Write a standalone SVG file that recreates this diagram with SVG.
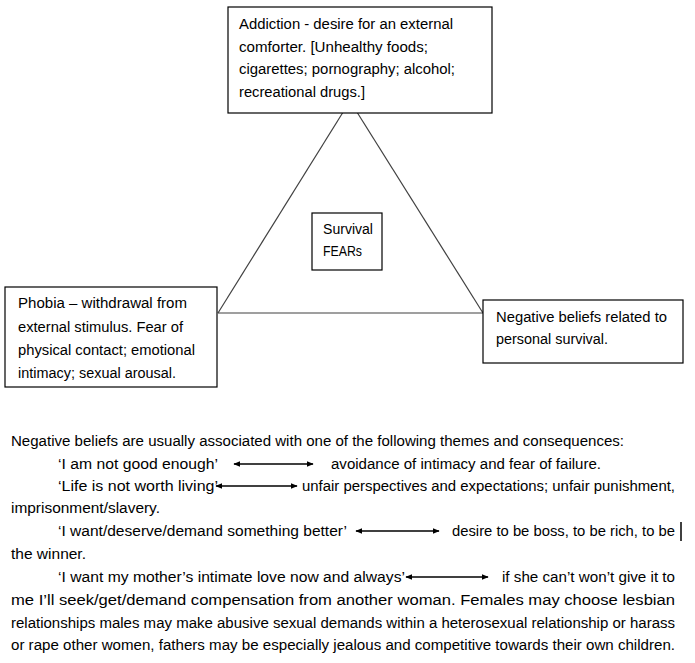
<svg xmlns="http://www.w3.org/2000/svg" width="695" height="663" viewBox="0 0 695 663">
<style>
text{font-family:"Liberation Sans",Arial,sans-serif;font-size:14px;fill:#000}
.box{fill:#fff;stroke:#000;stroke-width:1.2}
.tri{stroke:#404040;stroke-width:1.2;fill:none}
.arr{stroke:#000;stroke-width:1.3;marker-start:url(#ah);marker-end:url(#ah)}
</style>
<defs>
<marker id="ah" viewBox="0 0 10 10" refX="9" refY="5" markerWidth="7" markerHeight="7" markerUnits="userSpaceOnUse" orient="auto-start-reverse">
<path d="M0,1 L10,5 L0,9 z" fill="#000"/>
</marker>
</defs>
<rect width="695" height="663" fill="#fff"/>
<g id="connectors">
<line class="tri" x1="218" y1="313" x2="350" y2="101"/>
<line class="tri" x1="483" y1="313" x2="350" y2="101"/>
<line class="tri" x1="218" y1="313" x2="483" y2="313"/>
</g>
<g id="addiction">
<rect class="box" x="228" y="7" width="264" height="106"/>
<text x="239" y="29" textLength="214" lengthAdjust="spacingAndGlyphs">Addiction - desire for an external</text>
<text x="239" y="52" textLength="189" lengthAdjust="spacingAndGlyphs">comforter. [Unhealthy foods;</text>
<text x="239" y="74" textLength="216" lengthAdjust="spacingAndGlyphs">cigarettes; pornography; alcohol;</text>
<text x="239" y="97" textLength="126" lengthAdjust="spacingAndGlyphs">recreational drugs.]</text>
</g>
<g id="phobia">
<rect class="box" x="5" y="287" width="212" height="100"/>
<text x="18" y="308" textLength="169" lengthAdjust="spacingAndGlyphs">Phobia – withdrawal from</text>
<text x="18" y="332" textLength="165" lengthAdjust="spacingAndGlyphs">external stimulus. Fear of</text>
<text x="18" y="355" textLength="177" lengthAdjust="spacingAndGlyphs">physical contact; emotional</text>
<text x="18" y="378" textLength="158" lengthAdjust="spacingAndGlyphs">intimacy; sexual arousal.</text>
</g>
<g id="negative">
<rect class="box" x="483" y="300" width="200" height="63"/>
<text x="496" y="322" textLength="171" lengthAdjust="spacingAndGlyphs">Negative beliefs related to</text>
<text x="496" y="344" textLength="112" lengthAdjust="spacingAndGlyphs">personal survival.</text>
</g>
<g id="survival">
<rect class="box" x="312" y="213" width="70" height="57"/>
<text x="323" y="234" textLength="50" lengthAdjust="spacingAndGlyphs">Survival</text>
<text x="323" y="256" textLength="39" lengthAdjust="spacingAndGlyphs">FEARs</text>
</g>
<g id="notes">
<text x="11" y="446" textLength="613" lengthAdjust="spacingAndGlyphs">Negative beliefs are usually associated with one of the following themes and consequences:</text>
<text x="58" y="469" textLength="160" lengthAdjust="spacingAndGlyphs">‘I am not good enough’</text>
<line class="arr" x1="234" y1="464" x2="313" y2="464"/>
<text x="331" y="469" textLength="270" lengthAdjust="spacingAndGlyphs">avoidance of intimacy and fear of failure.</text>
<text x="58" y="491" textLength="160" lengthAdjust="spacingAndGlyphs">‘Life is not worth living’</text>
<line class="arr" x1="216" y1="486" x2="297" y2="486"/>
<text x="302" y="491" textLength="373" lengthAdjust="spacingAndGlyphs">unfair perspectives and expectations; unfair punishment,</text>
<text x="11" y="513" textLength="149" lengthAdjust="spacingAndGlyphs">imprisonment/slavery.</text>
<text x="58" y="536" textLength="289" lengthAdjust="spacingAndGlyphs">‘I want/deserve/demand something better’</text>
<line class="arr" x1="356" y1="531" x2="439" y2="531"/>
<text x="452" y="536" textLength="223" lengthAdjust="spacingAndGlyphs">desire to be boss, to be rich, to be</text>
<line x1="681" y1="522" x2="681" y2="541" stroke="#000" stroke-width="1.5"/>
<text x="11" y="559" textLength="75" lengthAdjust="spacingAndGlyphs">the winner.</text>
<text x="58" y="582" textLength="347" lengthAdjust="spacingAndGlyphs">‘I want my mother’s intimate love now and always’</text>
<line class="arr" x1="406" y1="577" x2="488" y2="577"/>
<text x="502" y="582" textLength="173" lengthAdjust="spacingAndGlyphs">if she can’t won’t give it to</text>
<text x="11" y="605" textLength="664" lengthAdjust="spacingAndGlyphs">me I’ll seek/get/demand compensation from another woman. Females may choose lesbian</text>
<text x="11" y="628" textLength="664" lengthAdjust="spacingAndGlyphs">relationships males may make abusive sexual demands within a heterosexual relationship or harass</text>
<text x="11" y="650" textLength="664" lengthAdjust="spacingAndGlyphs">or rape other women, fathers may be especially jealous and competitive towards their own children.</text>
</g>
</svg>
